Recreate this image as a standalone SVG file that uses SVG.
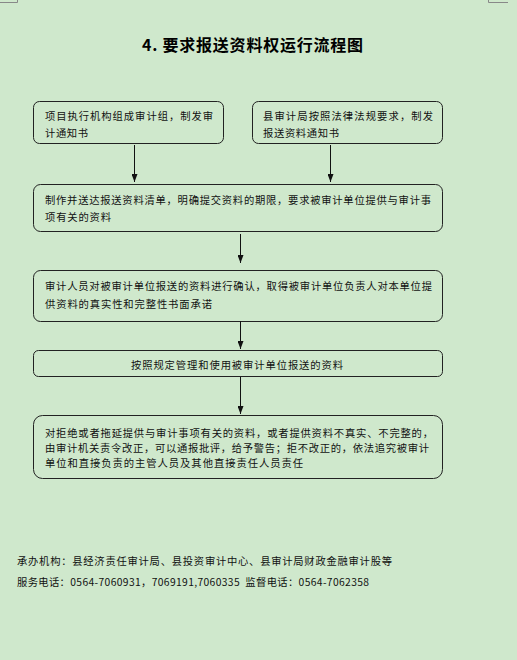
<svg xmlns="http://www.w3.org/2000/svg" width="517" height="660" viewBox="0 0 517 660">
<defs>
<style>
.bg{fill:#cfe8cc}
.box{fill:#cfe8cc;stroke:#222;stroke-width:1}
.t{font-family:"Noto Sans CJK SC","Noto Sans",sans-serif;font-size:10.3px;fill:#111}
.title{font-family:"Noto Sans CJK SC","Noto Sans",sans-serif;font-size:16px;font-weight:bold;fill:#000}
.ft{font-family:"Noto Sans CJK SC","Noto Sans",sans-serif;font-size:10.3px;fill:#111}
.ln{stroke:#111;stroke-width:1;fill:none}
.mk{stroke:#888;stroke-width:1;fill:none}
</style>
<marker id="ah" markerWidth="8" markerHeight="6" refX="8" refY="3" orient="auto" markerUnits="userSpaceOnUse">
<path d="M0,0 L8,3 L0,6 Z" fill="#111"/>
</marker>
</defs>
<rect class="bg" x="0" y="0" width="517" height="660"/>
<path class="mk" d="M0,2.5 H17.5 V0"/>
<path class="mk" d="M488.5,0 V2.5 H508"/>
<text class="title" x="142" y="50.5" textLength="221" lengthAdjust="spacing">4. 要求报送资料权运行流程图</text>

<g id="n1">
<rect class="box" x="33.5" y="101.5" width="190" height="42" rx="6"/>
<text class="t" x="45" y="119.5" textLength="168" lengthAdjust="spacing">项目执行机构组成审计组，制发审</text>
<text class="t" x="45" y="136.5" textLength="43" lengthAdjust="spacing">计通知书</text>
</g>
<g id="n2">
<rect class="box" x="252.5" y="101.5" width="190" height="42" rx="6"/>
<text class="t" x="263" y="119.5" textLength="170" lengthAdjust="spacing">县审计局按照法律法规要求，制发</text>
<text class="t" x="263" y="136.5" textLength="76" lengthAdjust="spacing">报送资料通知书</text>
</g>
<g id="n3">
<rect class="box" x="33.5" y="184.5" width="409" height="47" rx="7"/>
<text class="t" x="45" y="204" textLength="386" lengthAdjust="spacing">制作并送达报送资料清单，明确提交资料的期限，要求被审计单位提供与审计事</text>
<text class="t" x="45" y="221" textLength="66" lengthAdjust="spacing">项有关的资料</text>
</g>
<g id="n4">
<rect class="box" x="33.5" y="270.5" width="409" height="51" rx="7"/>
<text class="t" x="45" y="290" textLength="387" lengthAdjust="spacing">审计人员对被审计单位报送的资料进行确认，取得被审计单位负责人对本单位提</text>
<text class="t" x="45" y="308" textLength="167" lengthAdjust="spacing">供资料的真实性和完整性书面承诺</text>
</g>
<g id="n5">
<rect class="box" x="33.5" y="350.5" width="409" height="26" rx="5"/>
<text class="t" x="131" y="369" textLength="212" lengthAdjust="spacing">按照规定管理和使用被审计单位报送的资料</text>
</g>
<g id="n6">
<rect class="box" x="33.5" y="415.5" width="409" height="63" rx="9"/>
<text class="t" x="45" y="436.6" textLength="388" lengthAdjust="spacing">对拒绝或者拖延提供与审计事项有关的资料，或者提供资料不真实、不完整的，</text>
<text class="t" x="45" y="451.8" textLength="384" lengthAdjust="spacing">由审计机关责令改正，可以通报批评，给予警告；拒不改正的，依法追究被审计</text>
<text class="t" x="45" y="467.3" textLength="258" lengthAdjust="spacing">单位和直接负责的主管人员及其他直接责任人员责任</text>
</g>

<g id="connectors">
<line class="ln" x1="134.5" y1="145" x2="134.5" y2="182" marker-end="url(#ah)"/>
<line class="ln" x1="330.5" y1="145" x2="330.5" y2="182" marker-end="url(#ah)"/>
<line class="ln" x1="240.5" y1="234" x2="240.5" y2="263" marker-end="url(#ah)"/>
<line class="ln" x1="240.5" y1="321" x2="240.5" y2="349" marker-end="url(#ah)"/>
<line class="ln" x1="240.5" y1="377" x2="240.5" y2="414" marker-end="url(#ah)"/>
</g>

<text class="ft" x="17" y="564.5" textLength="375" lengthAdjust="spacing">承办机构：县经济责任审计局、县投资审计中心、县审计局财政金融审计股等</text>
<text class="ft" x="17" y="585.5" textLength="352" lengthAdjust="spacing" xml:space="preserve">服务电话：0564-7060931，7069191,7060335  监督电话：0564-7062358</text>
</svg>
